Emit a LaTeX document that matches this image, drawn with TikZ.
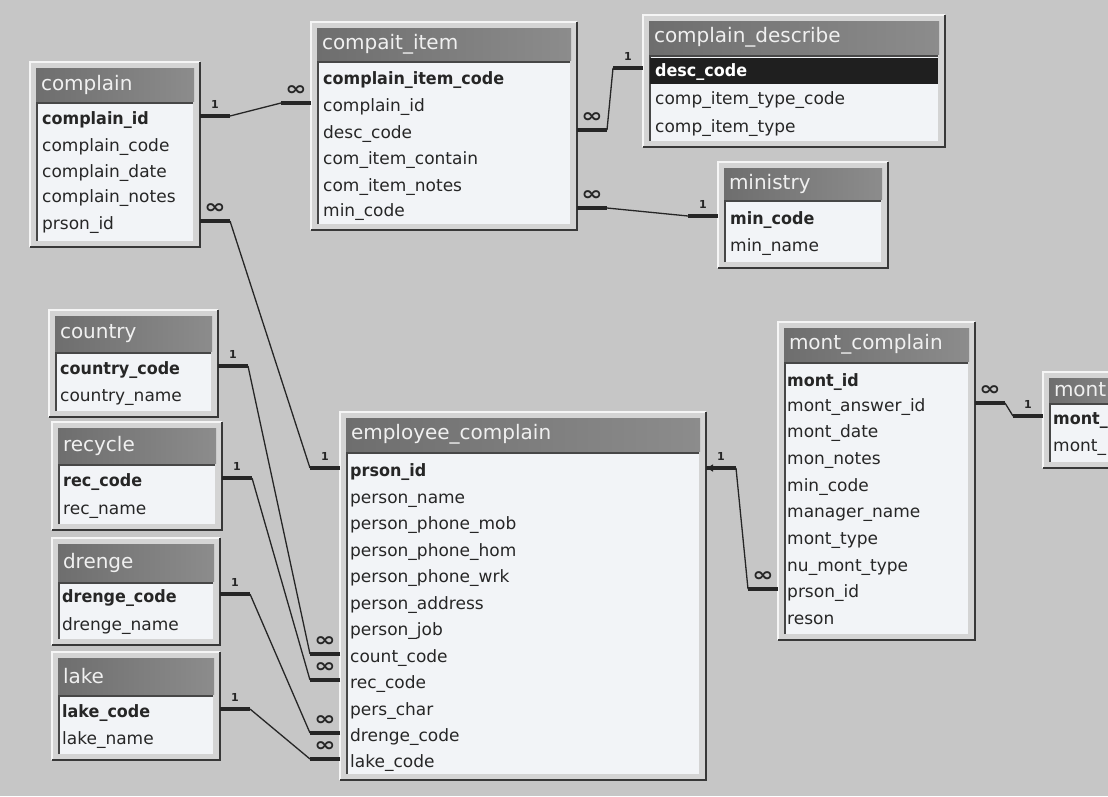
\documentclass[tikz,border=0pt]{standalone}
\usepackage{fontspec}
\setmainfont{DejaVu Sans}
\usepackage{graphicx}
\usetikzlibrary{arrows.meta,calc}
\definecolor{bg}{HTML}{C6C6C6}
\definecolor{frm}{HTML}{D4D4D4}
\definecolor{ttlA}{HTML}{6E6E6E}
\definecolor{ttlB}{HTML}{8C8C8C}
\definecolor{bdy}{HTML}{F2F4F7}
\definecolor{ink}{HTML}{262626}
\tikzset{
 tframe/.style={fill=frm, draw=none, inner sep=0pt, outer sep=0pt},
 ttitle/.style={left color=ttlA, right color=ttlB, draw=none, inner sep=0pt, outer sep=0pt,
   font=\fontsize{20}{22}\selectfont, text=white!88!gray, align=left},
 tbody/.style={fill=bdy, draw=none, inner sep=0pt, outer sep=0pt},
 trow/.style={anchor=west, inner sep=0pt, font=\fontsize{17}{19}\selectfont, text=ink,
   text height=12pt, text depth=4pt},
 darkedge/.style={draw=black!78, line width=2pt},
 liteedge/.style={draw=white!92!gray, line width=1.5pt},
 sunkedge/.style={draw=black!72, line width=1.6pt},
 relline/.style={draw=ink, line width=1.3pt},
 relbar/.style={draw=ink, line width=3.5pt},
 lab/.style={inner sep=0pt, text=ink},
 hlrow/.style={fill=black!88, draw=none, inner sep=0pt, anchor=north west},
}
\newcommand\kf[1]{\scalebox{0.94}[1]{\bfseries #1}}
\newcommand\lone{\fontsize{11}{12}\selectfont\bfseries 1}
\newcommand\lmany{\scalebox{1.5}[1.15]{\fontsize{17}{17}\selectfont\bfseries ∞}}
% id, x1, y1, x2, y2, title height, title
\newcommand\ertbl[7]{%
 \pgfmathsetmacro\ertW{#4-#2}\pgfmathsetmacro\ertH{#5-#3}%
 \pgfmathsetmacro\ertBW{\ertW-14}\pgfmathsetmacro\ertBH{\ertH-#6-14}%
 \pgfmathsetmacro\ertTW{\ertW-12}\pgfmathsetmacro\ertXW{\ertW-22}%
 \node[tframe, minimum width=\ertW pt, minimum height=\ertH pt, anchor=north west] (#1) at (#2,#3) {};
 \draw[liteedge] (#1.south west) -- (#1.north west) -- (#1.north east);
 \draw[darkedge] (#1.north east) -- (#1.south east) -- (#1.south west);
 \node[ttitle, minimum width=\ertTW pt, minimum height=#6 pt, text width=\ertXW pt, inner xsep=5pt, anchor=north west]
   (#1-t) at ($(#1.north west)+(6,6)$) {#7};
 \node[tbody, minimum width=\ertBW pt, minimum height=\ertBH pt, anchor=north west]
   (#1-b) at ($(#1.north west)+(7,#6+8)$) {};
 \draw[sunkedge] (#1-b.south west) -- (#1-b.north west) -- (#1-b.north east);
}
% id, fromTable, fromRow, fromLabel, toTable, toRow, toLabel
\newcommand\relx[7]{%
 \coordinate (#1-a) at ($(#2.east |- #3.west)+(0,-4)$);
 \coordinate (#1-b) at ($(#5.west |- #6.west)+(0,-4)$);
 \draw[relbar] (#1-a) -- ++(30,0) coordinate (#1-a2);
 \draw[relbar] (#1-b) -- ++(-30,0) coordinate (#1-b2);
 \draw[relline] (#1-a2) -- (#1-b2);
 \node[lab] (#1-la) at ($(#1-a)+(15,-12)$) {#4};
 \node[lab] (#1-lb) at ($(#1-b)+(-15,-12)$) {#7};
}
\begin{document}
\begin{tikzpicture}[x=1pt,y=-1pt]
\useasboundingbox (0,0) rectangle (1108,796);
\clip (0,0) rectangle (1108,796);
\fill[bg] (0,0) rectangle (1108,796);

% complain
\ertbl{complain}{30}{62}{200}{247}{33}{complain}
\node[trow] (complain-1) at (42,120) {\kf{complain\_id}};
\node[trow] (complain-2) at (42,147) {complain\_code};
\node[trow] (complain-3) at (42,173) {complain\_date};
\node[trow] (complain-4) at (42,198) {complain\_notes};
\node[trow] (complain-5) at (42,225) {prson\_id};

% compait_item
\ertbl{item}{311}{22}{577}{230}{32}{compait\_item}
\node[trow] (item-1) at (323,80) {\kf{complain\_item\_code}};
\node[trow] (item-2) at (323,107) {complain\_id};
\node[trow] (item-3) at (323,134) {desc\_code};
\node[trow] (item-4) at (323,160) {com\_item\_contain};
\node[trow] (item-5) at (323,187) {com\_item\_notes};
\node[trow] (item-6) at (323,212) {min\_code};

% complain_describe
\ertbl{desc}{643}{15}{945}{147}{33}{complain\_describe}
\node[hlrow, minimum width=288pt, minimum height=26pt] (desc-hl) at (650,58) {};
\node[trow, text=white] (desc-1) at (655,72) {\kf{desc\_code}};
\node[trow] (desc-2) at (655,100) {comp\_item\_type\_code};
\node[trow] (desc-3) at (655,128) {comp\_item\_type};

% ministry
\ertbl{ministry}{718}{162}{888}{268}{31}{ministry}
\node[trow] (ministry-1) at (730,220) {\kf{min\_code}};
\node[trow] (ministry-2) at (730,247) {min\_name};

% country
\ertbl{country}{49}{310}{218}{417}{35}{country}
\node[trow] (country-1) at (60,370) {\kf{country\_code}};
\node[trow] (country-2) at (60,397) {country\_name};

% recycle
\ertbl{recycle}{52}{422}{222}{530}{35}{recycle}
\node[trow] (recycle-1) at (63,482) {\kf{rec\_code}};
\node[trow] (recycle-2) at (63,510) {rec\_name};

% drenge
\ertbl{drenge}{52}{538}{220}{645}{37}{drenge}
\node[trow] (drenge-1) at (62,598) {\kf{drenge\_code}};
\node[trow] (drenge-2) at (62,626) {drenge\_name};

% lake
\ertbl{lake}{52}{652}{220}{760}{36}{lake}
\node[trow] (lake-1) at (62,713) {\kf{lake\_code}};
\node[trow] (lake-2) at (62,740) {lake\_name};

% employee_complain
\ertbl{emp}{340}{412}{706}{780}{33}{employee\_complain}
\node[trow] (emp-1) at (350,472) {\kf{prson\_id}};
\node[trow] (emp-2) at (350,499) {person\_name};
\node[trow] (emp-3) at (350,525) {person\_phone\_mob};
\node[trow] (emp-4) at (350,552) {person\_phone\_hom};
\node[trow] (emp-5) at (350,578) {person\_phone\_wrk};
\node[trow] (emp-6) at (350,605) {person\_address};
\node[trow] (emp-7) at (350,631) {person\_job};
\node[trow] (emp-8) at (350,658) {count\_code};
\node[trow] (emp-9) at (350,684) {rec\_code};
\node[trow] (emp-10) at (350,711) {pers\_char};
\node[trow] (emp-11) at (350,737) {drenge\_code};
\node[trow] (emp-12) at (350,763) {lake\_code};

% mont_complain
\ertbl{mont}{778}{322}{975}{640}{33}{mont\_complain}
\node[trow] (mont-1) at (787,382) {\kf{mont\_id}};
\node[trow] (mont-2) at (787,407) {mont\_answer\_id};
\node[trow] (mont-3) at (787,433) {mont\_date};
\node[trow] (mont-4) at (787,460) {mon\_notes};
\node[trow] (mont-5) at (787,487) {min\_code};
\node[trow] (mont-6) at (787,513) {manager\_name};
\node[trow] (mont-7) at (787,540) {mont\_type};
\node[trow] (mont-8) at (787,567) {nu\_mont\_type};
\node[trow] (mont-9) at (787,593) {prson\_id};
\node[trow] (mont-10) at (787,620) {reson};

% partial table at right edge
\ertbl{pm}{1043}{372}{1140}{468}{24}{mont}
\node[trow] (pm-1) at (1053,420) {\kf{mont\_}};
\node[trow] (pm-2) at (1053,447) {mont\_};

% relationships
\relx{ra}{complain}{complain-1}{\lone}{item}{item-2}{\lmany}
\relx{rb}{item}{item-3}{\lmany}{desc}{desc-1}{\lone}
\relx{rc}{item}{item-6}{\lmany}{ministry}{ministry-1}{\lone}
\relx{rd}{complain}{complain-5}{\lmany}{emp}{emp-1}{\lone}
\relx{re}{country}{country-1}{\lone}{emp}{emp-8}{\lmany}
\relx{rf}{recycle}{recycle-1}{\lone}{emp}{emp-9}{\lmany}
\relx{rg}{drenge}{drenge-1}{\lone}{emp}{emp-11}{\lmany}
\relx{rh}{lake}{lake-1}{\lone}{emp}{emp-12}{\lmany}
\relx{ri}{emp}{emp-1}{\lone}{mont}{mont-9}{\lmany}
\draw[relline, -{Latex[length=7pt,width=8pt]}] ($(ri-a)+(14,0)$) -- (ri-a);
\relx{rj}{mont}{mont-2}{\lmany}{pm}{pm-1}{\lone}
\end{tikzpicture}
\end{document}
